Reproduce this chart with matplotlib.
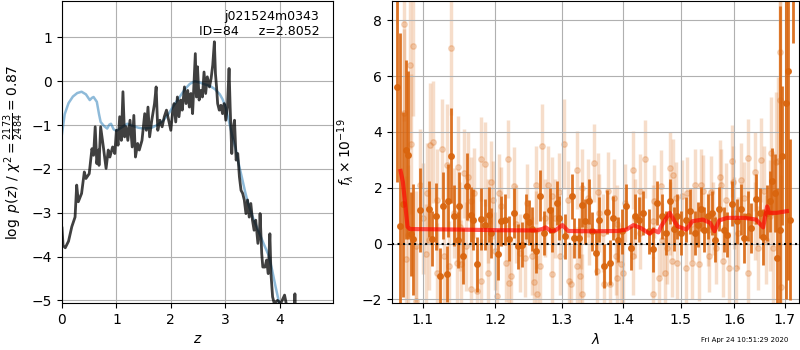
import numpy as np
import matplotlib
matplotlib.use('Agg')
import matplotlib.pyplot as plt
from matplotlib.ticker import NullLocator

# left panel: log p(z) and template-fit curve
z_pz = [0.00, 0.02, 0.06, 0.12, 0.18, 0.24, 0.27, 0.30, 0.36, 0.41,
        0.44, 0.50, 0.55, 0.58, 0.61, 0.64, 0.67, 0.68, 0.71, 0.76,
        0.81, 0.85, 0.88, 0.93, 0.97, 1.00, 1.03, 1.06, 1.09, 1.12,
        1.15, 1.18, 1.21, 1.25, 1.29, 1.32, 1.35, 1.39, 1.42, 1.47,
        1.52, 1.55, 1.58, 1.61, 1.65, 1.70, 1.73, 1.76, 1.80, 1.84,
        1.88, 1.92, 1.96, 2.00, 2.03, 2.06, 2.09, 2.12, 2.15, 2.18,
        2.21, 2.25, 2.28, 2.31, 2.34, 2.37, 2.40, 2.43, 2.45, 2.47,
        2.49, 2.52, 2.55, 2.58, 2.61, 2.64, 2.67, 2.71, 2.74, 2.77,
        2.80, 2.82, 2.84, 2.86, 2.89, 2.92, 2.95, 2.98, 3.01, 3.04,
        3.07, 3.09, 3.12, 3.14, 3.17, 3.20, 3.23, 3.26, 3.29, 3.32,
        3.35, 3.38, 3.41, 3.44, 3.47, 3.50, 3.53, 3.56, 3.60, 3.63,
        3.64, 3.67, 3.69, 3.73, 3.76, 3.79, 3.82, 3.84, 3.87, 3.90,
        3.96, 4.02, 4.09, 4.12, 4.16, 4.27, 4.28, 4.30]
logpz = [-3.35, -3.75, -3.80, -3.65, -3.32, -3.10, -2.37, -2.75, -2.56, -2.07,
         -2.22, -2.11, -1.54, -1.69, -1.04, -1.88, -1.57, -1.92, -1.04, -1.50,
         -1.99, -1.57, -1.73, -1.50, -1.65, -1.12, -1.46, -0.81, -1.35, -0.24,
         -1.27, -1.04, -1.35, -0.89, -1.50, -0.78, -1.73, -1.42, -1.57, -1.35,
         -0.74, -1.12, -0.59, -1.27, -0.89, -0.51, -0.13, -1.12, -0.89, -1.04,
         -0.81, -0.66, -0.89, -1.12, -0.74, -0.51, -0.93, -0.36, -0.81, -0.43,
         -0.66, -0.13, -0.51, -0.21, -0.59, -0.28, -0.74, 0.10, 0.63, -0.36,
         0.33, -0.43, -0.21, -0.36, 0.21, -0.28, 0.10, -0.13, 0.06, 0.37,
         0.90, 0.17, -0.13, -0.51, -0.66, -0.55, -0.74, -0.51, -0.89, -0.59,
         0.29, -0.59, -1.65, -1.12, -0.89, -1.80, -1.65, -2.18, -2.49, -2.56,
         -2.71, -3.02, -2.71, -3.10, -2.79, -3.17, -3.40, -3.17, -3.70, -3.40,
         -3.02, -3.93, -4.24, -4.24, -4.08, -4.39, -3.48, -4.39, -4.92, -5.07,
         -5.00, -5.07, -4.88, -5.07, -6.00, -6.00, -4.85, -8.00]

z_tpl = [0.00, 0.05, 0.12, 0.20, 0.28, 0.36, 0.44, 0.51, 0.55, 0.58,
         0.64, 0.68, 0.71, 0.77, 0.83, 0.87, 0.90, 0.95, 1.00, 1.10,
         1.20, 1.30, 1.40, 1.50, 1.65, 1.75, 1.85, 1.95, 2.05, 2.15,
         2.26, 2.35, 2.44, 2.53, 2.62, 2.72, 2.81, 2.90, 2.95, 3.01,
         3.07, 3.13, 3.19, 3.25, 3.31, 3.37, 3.43, 3.52, 3.62, 3.71,
         3.80, 3.86, 3.92, 3.98, 4.02]
logp_tpl = [-1.20, -0.75, -0.50, -0.35, -0.27, -0.24, -0.30, -0.43, -0.38, -0.36,
            -0.47, -0.75, -0.93, -1.02, -1.08, -0.99, -0.97, -1.10, -1.13, -1.05,
            -0.97, -1.02, -1.06, -1.08, -1.06, -1.00, -0.91, -0.76, -0.56, -0.38,
            -0.18, -0.06, 0.00, -0.03, -0.07, -0.11, -0.18, -0.30, -0.41, -0.60,
            -0.93, -1.25, -1.54, -1.90, -2.22, -2.55, -2.83, -3.15, -3.45, -3.72,
            -3.98, -4.30, -4.66, -5.00, -5.30]

# right panel: spectrum (dark = binned, light = individual), model
wl_d = [1.066, 1.070, 1.074, 1.078, 1.081, 1.084, 1.087, 1.096, 1.108, 1.112,
        1.117, 1.123, 1.127, 1.132, 1.134, 1.138, 1.142, 1.147, 1.149, 1.154,
        1.160, 1.165, 1.169, 1.174, 1.179, 1.186, 1.191, 1.194, 1.204, 1.208,
        1.214, 1.220, 1.228, 1.233, 1.240, 1.245, 1.250, 1.254, 1.261, 1.267,
        1.273, 1.281, 1.285, 1.292, 1.296, 1.305, 1.316, 1.320, 1.327, 1.332,
        1.337, 1.343, 1.348, 1.355, 1.360, 1.368, 1.372, 1.377, 1.382, 1.391,
        1.397, 1.404, 1.412, 1.419, 1.427, 1.434, 1.443, 1.451, 1.458, 1.466,
        1.473, 1.480, 1.487, 1.494, 1.501, 1.509, 1.517, 1.525, 1.531, 1.537,
        1.543, 1.549, 1.557, 1.563, 1.571, 1.579, 1.586, 1.596, 1.604, 1.612,
        1.619, 1.627, 1.633, 1.641, 1.649, 1.655, 1.664, 1.669, 1.674, 1.679,
        1.684, 1.690, 1.694, 1.702, 1.706, 1.710, 1.716]
fl_d = [5.60, 0.64, 1.40, 3.36, 3.18, 0.35, 0.15, 1.20, 1.24, 0.18,
        0.98, -1.17, 1.36, -1.10, 1.54, 3.15, 1.00, 0.14, 1.36, -0.45,
        2.05, 1.04, 0.86, -0.75, 0.88, 0.68, 1.04, 0.38, -0.39, 0.80,
        0.86, 0.18, 1.10, -0.10, -0.04, 0.98, 0.76, 0.52, -0.27, 1.72,
        0.38, 1.19, 0.50, 1.45, 0.92, 0.26, 1.69, 0.20, 0.20, 1.39,
        0.80, 1.51, 0.44, -0.33, 0.86, -0.81, 1.13, -0.69, 0.92, 0.14,
        0.44, 1.33, -0.16, 0.98, 0.86, 1.10, 0.44, -0.21, 1.45, 0.98,
        0.38, 1.51, 0.52, 0.98, 0.38, 0.86, 1.16, 0.38, 0.68, 1.24,
        0.50, 0.98, 1.10, 0.14, 1.24, 0.50, 0.32, 1.43, 0.80, 1.22,
        0.20, 0.98, 0.56, 1.60, 1.10, 0.24, 1.10, 1.51, 2.23, 1.81,
        -0.51, 0.50, 3.15, 5.03, 6.19, 0.86, 11.0]
er_d = [3.4, 6.9, 3.3, 3.2, 3.0, 1.5, 2.0, 1.5, 1.0, 1.0,
        1.2, 1.0, 1.2, 1.0, 1.3, 1.7, 1.1, 1.0, 1.2, 1.0,
        1.2, 1.0, 1.1, 1.0, 1.1, 0.9, 1.0, 0.9, 0.9, 0.9,
        0.9, 0.8, 0.9, 0.8, 0.8, 0.8, 0.8, 0.8, 0.8, 0.9,
        0.8, 0.8, 0.8, 0.8, 0.8, 0.8, 0.8, 0.7, 0.7, 0.8,
        0.8, 0.8, 0.7, 0.8, 0.8, 0.8, 0.8, 0.8, 0.8, 0.8,
        0.8, 0.8, 0.8, 0.8, 0.8, 0.8, 0.8, 0.8, 0.8, 0.8,
        0.8, 0.8, 0.8, 0.8, 0.8, 0.8, 0.8, 0.8, 0.8, 0.8,
        0.8, 0.8, 0.8, 0.8, 0.8, 0.8, 0.8, 0.8, 0.8, 0.9,
        0.9, 0.9, 0.9, 0.9, 0.9, 1.0, 1.0, 1.1, 1.2, 1.4,
        2.5, 8.0, 2.5, 7.0, 7.5, 2.9, 3.8]

wl_l = [1.075, 1.076, 1.078, 1.081, 1.083, 1.084, 1.087, 1.091, 1.091, 1.096,
        1.100, 1.104, 1.105, 1.108, 1.110, 1.114, 1.119, 1.119, 1.126, 1.128,
        1.132, 1.135, 1.138, 1.142, 1.146, 1.147, 1.150, 1.152, 1.156, 1.159,
        1.162, 1.166, 1.166, 1.170, 1.174, 1.179, 1.179, 1.186, 1.190, 1.190,
        1.194, 1.197, 1.200, 1.203, 1.205, 1.208, 1.216, 1.218, 1.220, 1.223,
        1.228, 1.230, 1.237, 1.244, 1.247, 1.254, 1.258, 1.260, 1.261, 1.262,
        1.267, 1.270, 1.274, 1.278, 1.285, 1.285, 1.290, 1.296, 1.298, 1.304,
        1.309, 1.311, 1.314, 1.324, 1.324, 1.329, 1.330, 1.332, 1.332, 1.341,
        1.343, 1.352, 1.357, 1.358, 1.360, 1.366, 1.368, 1.374, 1.377, 1.385,
        1.388, 1.390, 1.390, 1.396, 1.400, 1.403, 1.416, 1.416, 1.420, 1.429,
        1.429, 1.437, 1.450, 1.450, 1.453, 1.461, 1.464, 1.466, 1.471, 1.475,
        1.480, 1.481, 1.484, 1.486, 1.491, 1.494, 1.503, 1.510, 1.512, 1.520,
        1.520, 1.525, 1.533, 1.536, 1.541, 1.549, 1.552, 1.556, 1.560, 1.565,
        1.573, 1.575, 1.578, 1.583, 1.590, 1.596, 1.598, 1.600, 1.603, 1.606,
        1.612, 1.619, 1.626, 1.627, 1.639, 1.640, 1.646, 1.651, 1.658, 1.662,
        1.670, 1.672, 1.675, 1.681, 1.685, 1.690, 1.690, 1.692]
fl_l = [4.67, 7.88, -0.57, 0.32, 6.40, 3.56, 7.07, -0.10, -2.06, 2.10,
        0.90, -0.39, 1.81, 0.14, 3.54, 3.64, 1.57, -1.05, 3.39, -0.45,
        2.80, -0.81, 7.00, 1.10, -0.69, 2.76, 0.60, -0.75, 2.52, -0.10,
        2.40, 1.51, -1.64, 1.81, -1.70, 3.04, -1.35, 2.86, -1.05, 0.80,
        2.19, 1.57, -0.27, -1.88, 1.81, 1.33, -0.69, 3.03, -1.40, -1.17,
        2.05, 0.70, -0.33, -0.51, 1.45, -0.45, -1.38, 0.50, 2.10, -1.80,
        -0.81, 3.50, 0.92, 2.10, 1.69, -1.10, 0.90, 1.83, -0.45, 3.57,
        1.57, -1.35, -1.46, 2.64, -0.81, -1.17, 0.50, 1.99, -1.79, 1.63,
        0.62, 2.88, -0.99, 1.83, 1.10, 0.38, -1.46, 1.87, -1.46, 1.63,
        -0.45, -1.23, 0.70, -0.75, -1.05, 1.45, 2.64, -0.45, 0.90, 1.90,
        0.38, 3.03, -1.79, 0.80, 1.51, -1.23, 2.05, 0.14, -1.05, -0.16,
        0.90, 2.70, -0.63, 2.46, 1.63, -0.69, 1.69, -0.87, 1.81, -0.69,
        0.70, 2.10, -0.75, 2.10, 1.87, 0.50, -0.45, 1.83, 0.90, -0.16,
        2.40, 2.10, -0.63, 1.57, -0.87, 2.96, 2.19, 1.10, -0.87, 0.38,
        2.29, 1.63, -1.05, 3.06, 2.58, 0.80, -0.16, 3.00, 1.89, 0.14,
        1.00, 3.26, -0.16, 2.92, 2.96, 6.87, 5.14, -1.55]
er_l = [3.0, 3.5, 3.0, 2.5, 3.0, 2.5, 2.5, 2.0, 2.0, 2.0,
        2.0, 1.8, 1.8, 1.8, 2.2, 2.2, 1.8, 1.8, 1.8, 1.8,
        2.2, 1.6, 2.4, 1.6, 1.6, 1.8, 1.6, 1.6, 1.6, 1.6,
        1.6, 1.6, 1.6, 1.6, 1.5, 1.5, 1.5, 1.5, 1.5, 1.5,
        1.5, 1.4, 1.4, 1.4, 1.4, 1.4, 1.4, 1.4, 1.4, 1.4,
        1.4, 1.4, 1.4, 1.4, 1.4, 1.4, 1.4, 1.4, 1.4, 1.4,
        1.4, 1.5, 1.4, 1.4, 1.4, 1.4, 1.4, 1.4, 1.4, 1.6,
        1.4, 1.4, 1.4, 1.4, 1.4, 1.4, 1.4, 1.4, 1.4, 1.4,
        1.4, 1.4, 1.4, 1.4, 1.4, 1.4, 1.4, 1.4, 1.4, 1.4,
        1.4, 1.4, 1.4, 1.4, 1.4, 1.4, 1.4, 1.4, 1.4, 1.3,
        1.3, 1.4, 1.3, 1.3, 1.3, 1.3, 1.3, 1.3, 1.3, 1.3,
        1.3, 1.3, 1.3, 1.3, 1.3, 1.3, 1.3, 1.3, 1.3, 1.3,
        1.3, 1.3, 1.3, 1.3, 1.3, 1.3, 1.3, 1.3, 1.3, 1.3,
        1.3, 1.3, 1.3, 1.3, 1.3, 1.3, 1.3, 1.3, 1.3, 1.3,
        1.3, 1.3, 1.3, 1.4, 1.4, 1.4, 1.5, 1.5, 1.6, 1.6,
        2.0, 2.0, 2.0, 2.5, 3.0, 4.0, 4.0, 4.0]

wl_m = [1.071, 1.074, 1.077, 1.080, 1.083, 1.150, 1.200, 1.260, 1.270, 1.275,
        1.283, 1.290, 1.301, 1.310, 1.350, 1.390, 1.405, 1.417, 1.430, 1.445,
        1.452, 1.460, 1.465, 1.480, 1.494, 1.510, 1.521, 1.540, 1.554, 1.562,
        1.571, 1.586, 1.619, 1.642, 1.656, 1.664, 1.668, 1.683, 1.704]
fl_m = [2.60, 2.20, 1.40, 0.60, 0.52, 0.50, 0.48, 0.47, 0.52, 0.58,
        0.45, 0.47, 0.66, 0.45, 0.44, 0.45, 0.50, 0.66, 0.55, 0.35,
        0.48, 0.40, 0.62, 1.10, 0.62, 0.50, 0.80, 0.86, 0.74, 0.44,
        0.83, 0.92, 0.92, 0.86, 0.58, 1.33, 1.10, 1.10, 1.16]

lam_ticks = [1.1, 1.2, 1.3, 1.4, 1.5, 1.6, 1.7]

fig = plt.figure(figsize=(8, 3.5), dpi=100)
ax1 = fig.add_axes([62/800, 47/350, 271/800, 302/350])
ax2 = fig.add_axes([392/800, 47/350, 407/800, 302/350])

ax1.plot(z_tpl, logp_tpl, color='tab:blue', alpha=0.5, lw=1.8)
ax1.plot(z_pz, logpz, color='k', alpha=0.75, lw=2)
ax1.set_xlim(0, 4.98)
ax1.set_ylim(-5.06, 1.83)
ax1.set_yticks([-5, -4, -3, -2, -1, 0, 1])
ax1.set_xticks([0, 1, 2, 3, 4])
ax1.grid()
ax1.set_xlabel(r'$z$')
ax1.set_ylabel(r'$\log\ p(z)$ / $\chi^2=\frac{2173}{2484}=0.87$')
ax1.text(0.95, 0.97, 'j021524m0343\nID=84     z=2.8052', transform=ax1.transAxes,
         ha='right', va='top', fontsize=9)

c = '#d9650e'
ax2.errorbar(wl_l, fl_l, yerr=er_l, fmt='o', color=c, alpha=0.22, ms=4,
             elinewidth=2.5, zorder=1)
ax2.errorbar(wl_d, fl_d, yerr=er_d, fmt='o', color=c, alpha=0.9, ms=4,
             elinewidth=2, zorder=2)
ax2.plot(wl_m, fl_m, color='r', alpha=0.65, lw=3, zorder=3)
ax2.axhline(0, color='k', ls=':', lw=1.5, zorder=4)
ax2.set_xscale('log')
ax2.set_xlim(1.06, 1.729)
ax2.set_ylim(-2.13, 8.69)
ax2.set_xticks(lam_ticks)
ax2.set_xticklabels([str(t) for t in lam_ticks])
ax2.xaxis.set_minor_locator(NullLocator())
ax2.set_yticks([-2, 0, 2, 4, 6, 8])
ax2.grid()
ax2.set_xlabel(r'$\lambda$')
ax2.set_ylabel(r'$f_\lambda\times10^{-19}$')

fig.text(0.985, 0.02, 'Fri Apr 24 10:51:29 2020', ha='right', va='bottom', fontsize=5)

fig.savefig('out.png', dpi=100)
